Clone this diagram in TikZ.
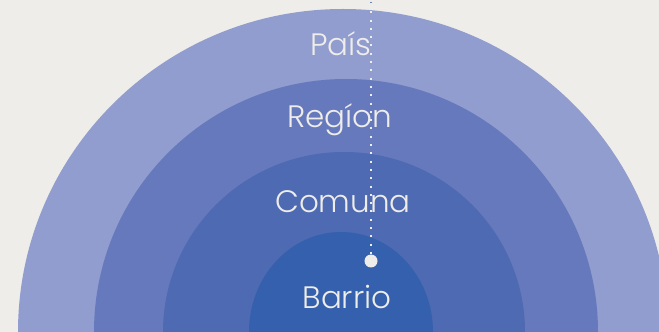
\documentclass[tikz,border=0pt]{standalone}
\usepackage{fontspec}
\setmainfont{Poppins}[UprightFont=* Light]
\usepackage{tikz}
\definecolor{bg}{HTML}{EEEDE9}
\definecolor{pais}{HTML}{919CCF}
\definecolor{region}{HTML}{6679BD}
\definecolor{comuna}{HTML}{4D6AB3}
\definecolor{barrio}{HTML}{3560AE}
\begin{document}
\begin{tikzpicture}[x=1pt,y=1pt,
  lbl/.style={text=bg,anchor=base,inner sep=0pt,font=\fontsize{31}{36}\selectfont}]
  \useasboundingbox (0,0) rectangle (659,332);
  \clip (0,0) rectangle (659,332);
  \fill[bg] (0,0) rectangle (659,332);
  \fill[pais] (343,0) ellipse [x radius=325, y radius=323];
  \fill[region] (346,0) ellipse [x radius=252, y radius=253];
  \fill[comuna] (344,0) ellipse [x radius=181, y radius=180];
  \fill[barrio] (341,0) ellipse [x radius=92, y radius=100];
  \node[lbl] (pa) at (341,276) {País};
  \node[lbl] (re) at (340,204) {Regíon};
  \node[lbl] (co) at (343,119) {Comuna};
  \node[lbl] (ba) at (347,23) {Barrio};
  \coordinate (top) at (371,329);
  \node[circle,fill=bg,inner sep=0pt,minimum size=13pt] (dot) at (371,71) {};
  \fill[barrio] (top) circle (1.2);
  \draw[bg,line width=2pt,dash pattern=on 2pt off 6.3pt] (top) -- (dot);
\end{tikzpicture}
\end{document}
